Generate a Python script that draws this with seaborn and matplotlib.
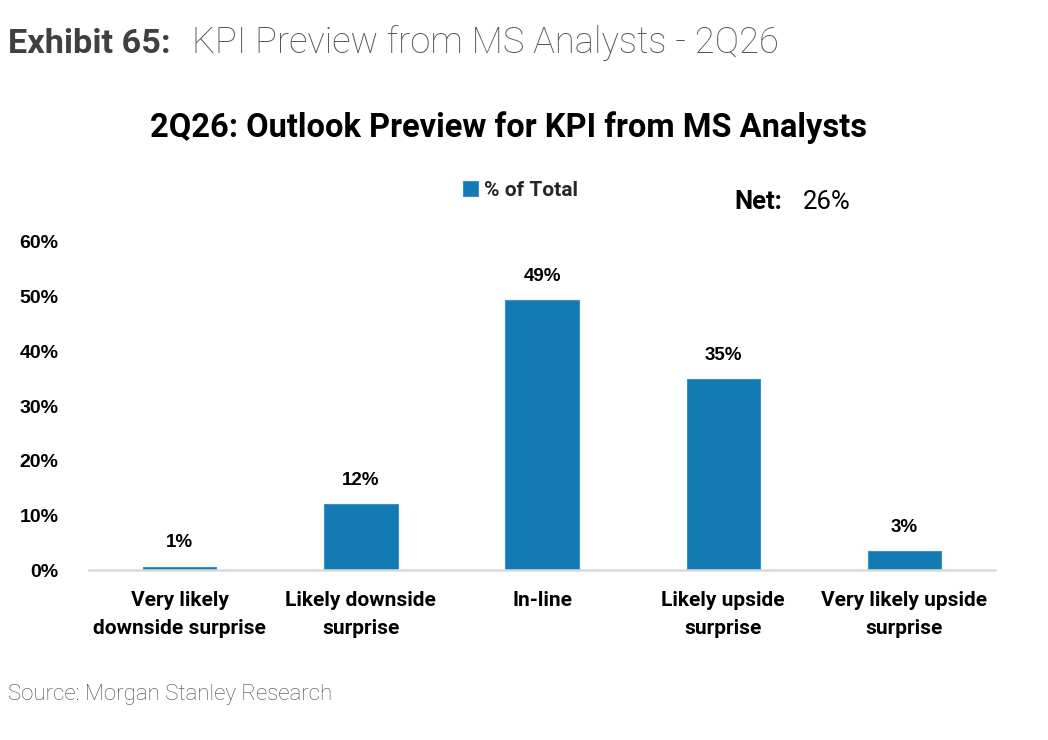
import matplotlib
matplotlib.use("Agg")
import matplotlib.pyplot as plt
import seaborn as sns
import pandas as pd
from matplotlib.ticker import PercentFormatter

# values (share of analysts, %)
categories = ["Very likely\ndownside surprise", "Likely downside\nsurprise", "In-line",
              "Likely upside\nsurprise", "Very likely upside\nsurprise"]
share = [0.6, 12.0, 49.4, 34.9, 3.4]
bar_labels = ["1%", "12%", "49%", "35%", "3%"]
yticks = [0, 10, 20, 30, 40, 50, 60]
net_value = "26%"

df = pd.DataFrame({"category": categories, "share": share})

sns.set_theme(style="white")
plt.rcParams["font.family"] = ["Roboto", "DejaVu Sans"]

BLUE = "#137ab2"

fig = plt.figure(figsize=(10.48, 7.4), dpi=100)
ax = fig.add_axes([0.085, 0.2297, 0.8645, 0.4433])

sns.barplot(data=df, x="category", y="share", color=BLUE, saturation=1, width=0.405,
            edgecolor="#3a8fcc", linewidth=0.8, label="% of Total", ax=ax)

ax.set_xlim(-0.5, 4.5)
ax.set_ylim(0, 60)
ax.set_yticks(yticks)
ax.yaxis.set_major_formatter(PercentFormatter(decimals=0))
ax.set_xlabel("")
ax.set_ylabel("")

for s in ["top", "right", "left"]:
    ax.spines[s].set_visible(False)
ax.spines["bottom"].set_color("#d9d9d9")
ax.spines["bottom"].set_linewidth(1.8)
ax.tick_params(axis="both", length=0)
ax.tick_params(axis="y", pad=22)
ax.tick_params(axis="x", pad=15)

for lab in ax.get_yticklabels():
    lab.set_fontfamily(["Liberation Sans", "DejaVu Sans"])
    lab.set_fontweight("bold")
    lab.set_fontsize(14)
    lab.set_color("black")
for lab in ax.get_xticklabels():
    lab.set_fontweight("bold")
    lab.set_fontsize(15)
    lab.set_color("black")
    lab.set_linespacing(1.6)

for p, txt in zip(ax.patches, bar_labels):
    ax.annotate(txt, (p.get_x() + p.get_width() / 2, p.get_height()),
                xytext=(0, 11), textcoords="offset points", ha="center", va="bottom",
                fontsize=13.5, fontweight="bold", family=["Liberation Sans", "DejaVu Sans"],
                color="black")

leg = ax.legend(loc="center", bbox_to_anchor=(0.497, 0.743), bbox_transform=fig.transFigure,
                frameon=False, handlelength=0.7, handleheight=0.7, handletextpad=0.3,
                prop={"family": "Roboto", "weight": "bold", "size": 15})

# header
fig.text(0.008, 0.928, "Exhibit 65:", fontsize=24.7, fontweight="bold", color="#404040",
         ha="left", va="baseline")
fig.text(0.183, 0.928, "KPI Preview from MS Analysts - 2Q26", fontsize=26.2,
         fontweight="light", color="#555555", ha="left", va="baseline")

fig.text(0.4855, 0.815, "2Q26: Outlook Preview for KPI from MS Analysts", fontsize=23.5,
         fontweight="bold", color="black", ha="center", va="baseline")

fig.text(0.701, 0.717, "Net:", fontsize=18.5, fontweight="bold", color="black",
         ha="left", va="baseline")
fig.text(0.766, 0.717, net_value, fontsize=18.5, color="black", ha="left", va="baseline")

fig.text(0.008, 0.054, "Source: Morgan Stanley Research", fontsize=16, fontweight="light",
         color="#4a4a4a", ha="left", va="baseline")

fig.savefig("out.png", dpi=100)
